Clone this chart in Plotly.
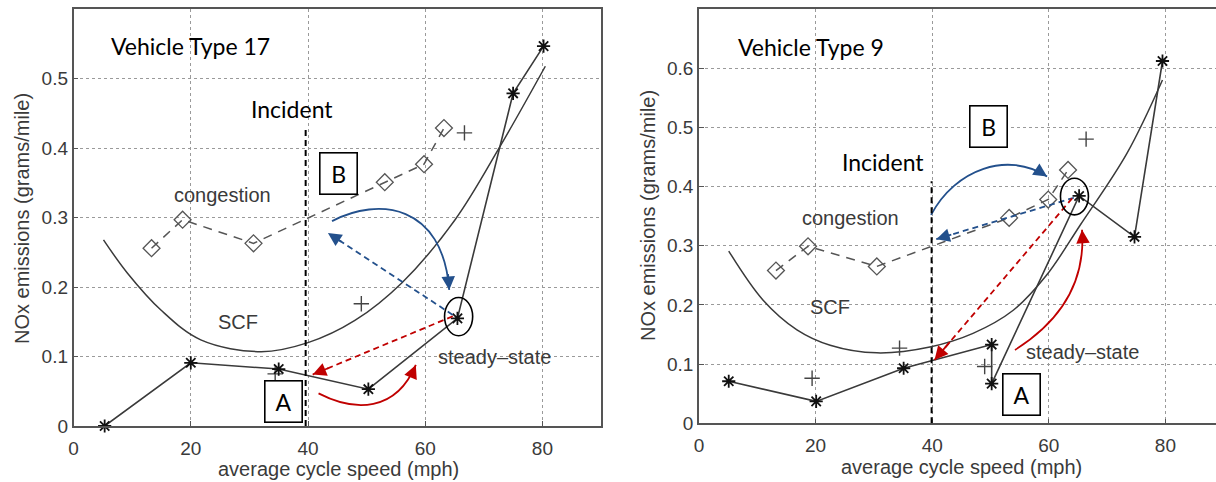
import plotly.graph_objects as go

# ---------------- data: Vehicle Type 17 (left) ----------------
vt17_steady_x = [5.3, 20.0, 35.0, 50.3, 65.5, 75.0, 80.2]
vt17_steady_y = [0.0, 0.091, 0.082, 0.053, 0.155, 0.479, 0.547]
vt17_cong_x = [13.3, 18.6, 30.7, 53.1, 59.8, 63.2]
vt17_cong_y = [0.256, 0.297, 0.263, 0.351, 0.377, 0.429]
vt17_plus_x = [34.4, 49.1, 66.7]
vt17_plus_y = [0.075, 0.176, 0.422]
vt17_scf_x = [5.1, 9.2, 14.9, 21.7, 32.0, 40.0, 48.0, 56.0, 65.1, 72.8, 80.5]
vt17_scf_y = [0.268, 0.220, 0.167, 0.124, 0.107, 0.120, 0.152, 0.206, 0.297, 0.403, 0.518]

# ---------------- data: Vehicle Type 9 (right) ----------------
vt9_steady_x = [5.1, 20.1, 35.1, 50.2, 50.2, 65.2, 74.7, 79.5]
vt9_steady_y = [0.071, 0.037, 0.093, 0.133, 0.067, 0.384, 0.315, 0.612]
vt9_cong_x = [13.2, 18.7, 30.5, 53.2, 59.9, 63.3]
vt9_cong_y = [0.258, 0.299, 0.265, 0.347, 0.378, 0.428]
vt9_plus_x = [19.4, 34.4, 49.0, 66.4]
vt9_plus_y = [0.076, 0.127, 0.096, 0.480]
vt9_scf_x = [5.1, 11.0, 16.8, 22.5, 30.5, 39.6, 47.0, 53.9, 59.6, 65.4, 73.4, 79.5]
vt9_scf_y = [0.291, 0.208, 0.158, 0.132, 0.119, 0.129, 0.152, 0.191, 0.250, 0.335, 0.456, 0.580]

x_ticks = [0, 20, 40, 60, 80]
y_ticks_17 = [0, 0.1, 0.2, 0.3, 0.4, 0.5]
y_ticks_9 = [0, 0.1, 0.2, 0.3, 0.4, 0.5, 0.6]
y_tick_text_17 = ["0", "0.1", "0.2", "0.3", "0.4", "0.5"]
y_tick_text_9 = ["0", "0.1", "0.2", "0.3", "0.4", "0.5", "0.6"]

titles = ["Vehicle Type 17", "Vehicle Type 9"]
x_title = "average cycle speed (mph)"
y_title = "NOx emissions (grams/mile)"
incident_x = [39.6, 39.9]
incident_top = [0.429, 0.409]

BLUE = "#23508C"
RED = "#C00000"
GRAY = "#3a3a3a"
FONT = "Liberation Sans, Arial, sans-serif"
CAL = "Lato, sans-serif"

fig = go.Figure()


def add_panel(xs, ys, cx, cy, px, py, scx, scy, xa, ya):
    fig.add_trace(go.Scatter(x=scx, y=scy, mode="lines", line=dict(color=GRAY, width=1.5, shape="spline", smoothing=1.0),
                             xaxis=xa, yaxis=ya, hoverinfo="skip", showlegend=False))
    fig.add_trace(go.Scatter(x=cx, y=cy, mode="lines+markers",
                             line=dict(color="#555", width=1.5, dash="9px,7px"),
                             marker=dict(symbol="diamond-open", size=13, color="#555", line=dict(width=1.3)),
                             xaxis=xa, yaxis=ya, showlegend=False, cliponaxis=False))
    fig.add_trace(go.Scatter(x=px, y=py, mode="markers",
                             marker=dict(symbol="cross-thin-open", size=11, color="#444", line=dict(width=1.4)),
                             xaxis=xa, yaxis=ya, showlegend=False, cliponaxis=False))
    fig.add_trace(go.Scatter(x=xs, y=ys, mode="lines+markers",
                             line=dict(color=GRAY, width=1.6),
                             marker=dict(symbol="asterisk-open", size=11, color="#111", line=dict(width=1.8)),
                             xaxis=xa, yaxis=ya, showlegend=False, cliponaxis=False))


add_panel(vt17_steady_x, vt17_steady_y, vt17_cong_x, vt17_cong_y, vt17_plus_x, vt17_plus_y,
          vt17_scf_x, vt17_scf_y, "x", "y")
add_panel(vt9_steady_x, vt9_steady_y, vt9_cong_x, vt9_cong_y, vt9_plus_x, vt9_plus_y,
          vt9_scf_x, vt9_scf_y, "x2", "y2")

shapes = []
annotations = []


def head(xa, ya, tip, tail, color):
    annotations.append(dict(x=tip[0], y=tip[1], ax=tail[0], ay=tail[1], xref=xa, yref=ya,
                            axref=xa, ayref=ya, text="", showarrow=True, arrowhead=2,
                            arrowsize=1.5, arrowwidth=1.8, arrowcolor=color, standoff=0))


def straight_arrow(xa, ya, start, tip, color):
    shapes.append(dict(type="line", xref=xa, yref=ya, x0=start[0], y0=start[1], x1=tip[0], y1=tip[1],
                       line=dict(color=color, width=1.8, dash="6px,4px")))
    tail = (tip[0] + 0.12 * (start[0] - tip[0]), tip[1] + 0.12 * (start[1] - tip[1]))
    head(xa, ya, tip, tail, color)


def curved_arrow(xa, ya, p0, p1, p2, p3, color):
    path = f"M {p0[0]},{p0[1]} C {p1[0]},{p1[1]} {p2[0]},{p2[1]} {p3[0]},{p3[1]}"
    shapes.append(dict(type="path", xref=xa, yref=ya, path=path, line=dict(color=color, width=1.8)))
    tail = (p3[0] + 0.2 * (p2[0] - p3[0]), p3[1] + 0.2 * (p2[1] - p3[1]))
    head(xa, ya, p3, tail, color)


# ---- left panel annotations ----
straight_arrow("x", "y", (64.7, 0.160), (43.4, 0.278), BLUE)
straight_arrow("x", "y", (64.7, 0.158), (40.8, 0.074), RED)
curved_arrow("x", "y", (44.1, 0.295), (52, 0.33), (63, 0.32), (64.1, 0.196), BLUE)
curved_arrow("x", "y", (41.8, 0.047), (48, 0.020), (55, 0.020), (58.4, 0.088), RED)
shapes.append(dict(type="circle", xref="x", yref="y", x0=63.3, x1=68.1, y0=0.130, y1=0.185,
                   line=dict(color="black", width=1.6)))

# ---- right panel annotations ----
straight_arrow("x2", "y2", (64.3, 0.381), (40.7, 0.311), BLUE)
straight_arrow("x2", "y2", (64.0, 0.380), (40.4, 0.107), RED)
curved_arrow("x2", "y2", (39.8, 0.352), (44, 0.43), (53, 0.46), (59.7, 0.417), BLUE)
curved_arrow("x2", "y2", (54.2, 0.124), (60, 0.16), (66.5, 0.22), (65.7, 0.327), RED)
shapes.append(dict(type="circle", xref="x2", yref="y2", x0=62.0, x1=66.8, y0=0.352, y1=0.414,
                   line=dict(color="black", width=1.6)))

# incident lines
for i, (xa, ya) in enumerate([("x", "y"), ("x2", "y2")]):
    shapes.append(dict(type="line", xref=xa, yref=ya, x0=incident_x[i], x1=incident_x[i], y0=0,
                       y1=incident_top[i], line=dict(color="black", width=2, dash="6px,4px")))


def label(xa, ya, x, y, text, size=20, color="#3a3a3a", font=FONT, xanchor="center"):
    annotations.append(dict(x=x, y=y, xref=xa, yref=ya, text=text, showarrow=False,
                            font=dict(family=font, size=size, color=color), xanchor=xanchor,
                            yanchor="middle"))


def box(xa, ya, x, y, text):
    annotations.append(dict(x=x, y=y, xref=xa, yref=ya, text=text, showarrow=False,
                            font=dict(family=CAL, size=23, color="black"), width=34, height=38,
                            bordercolor="black", borderwidth=1.6, borderpad=1, bgcolor="white",
                            xanchor="center", yanchor="middle"))


label("x", "y", 6.0, 0.547, titles[0], size=23, color="black", font=CAL, xanchor="left")
label("x", "y", 37.3, 0.456, "Incident", size=23, color="black", font=CAL)
label("x", "y", 25.4, 0.333, "congestion")
label("x", "y", 28.0, 0.150, "SCF")
label("x", "y", 71.8, 0.100, "steady\u2013state")
box("x", "y", 45.2, 0.363, "B")
box("x", "y", 35.9, 0.036, "A")

label("x2", "y2", 6.3, 0.636, titles[1], size=23, color="black", font=CAL, xanchor="left")
label("x2", "y2", 31.6, 0.442, "Incident", size=23, color="black", font=CAL)
label("x2", "y2", 26.0, 0.346, "congestion")
label("x2", "y2", 22.5, 0.197, "SCF")
label("x2", "y2", 65.8, 0.121, "steady\u2013state")
box("x2", "y2", 49.65, 0.5015, "B")
box("x2", "y2", 55.25, 0.049, "A")

# axis titles
W, H = 1216, 482
for (xc, yc) in [(338, 469), (962, 467)]:
    annotations.append(dict(x=xc / W, y=1 - yc / H, xref="paper", yref="paper", text=x_title,
                            xanchor="center", yanchor="middle",
                            showarrow=False, font=dict(family=FONT, size=20, color="#3a3a3a")))
for (xc, yc) in [(22, 219), (648, 216)]:
    annotations.append(dict(x=xc / W, y=1 - yc / H, xref="paper", yref="paper", text=y_title,
                            xanchor="center", yanchor="middle",
                            textangle=-90, showarrow=False, font=dict(family=FONT, size=20, color="#3a3a3a")))

axis_common = dict(showgrid=True, gridcolor="#9a9a9a", griddash="dot", gridwidth=1,
                   showline=True, linecolor="#555", linewidth=1.6, ticks="inside", ticklen=5,
                   tickcolor="#555", tickfont=dict(family=FONT, size=19, color="#3a3a3a"), zeroline=False,
                   fixedrange=True, automargin=False)

fig.update_layout(
    width=W, height=H, margin=dict(l=0, r=0, t=0, b=0, pad=0, autoexpand=False),
    paper_bgcolor="white", plot_bgcolor="white", showlegend=False,
    xaxis=dict(domain=[73.6 / W, 601 / W], range=[0, 90], tickvals=x_ticks, mirror=True,
               anchor="y", ticklabelstandoff=4, **axis_common),
    yaxis=dict(domain=[1 - 426 / H, 1 - 9.3 / H], range=[0, 0.6], tickvals=y_ticks_17,
               ticktext=y_tick_text_17, mirror=True, anchor="x", **axis_common),
    xaxis2=dict(domain=[699 / W, 1.0], range=[0, (1216 - 699) / 5.83], tickvals=x_ticks, mirror=True,
                anchor="y2", ticklabelstandoff=4, **axis_common),
    yaxis2=dict(domain=[1 - 423.3 / H, 1 - 8.9 / H], range=[0, 0.7], tickvals=y_ticks_9,
                ticktext=y_tick_text_9, mirror=False, anchor="x2", **axis_common),
    shapes=shapes, annotations=annotations,
)

fig.write_html("out.html")
